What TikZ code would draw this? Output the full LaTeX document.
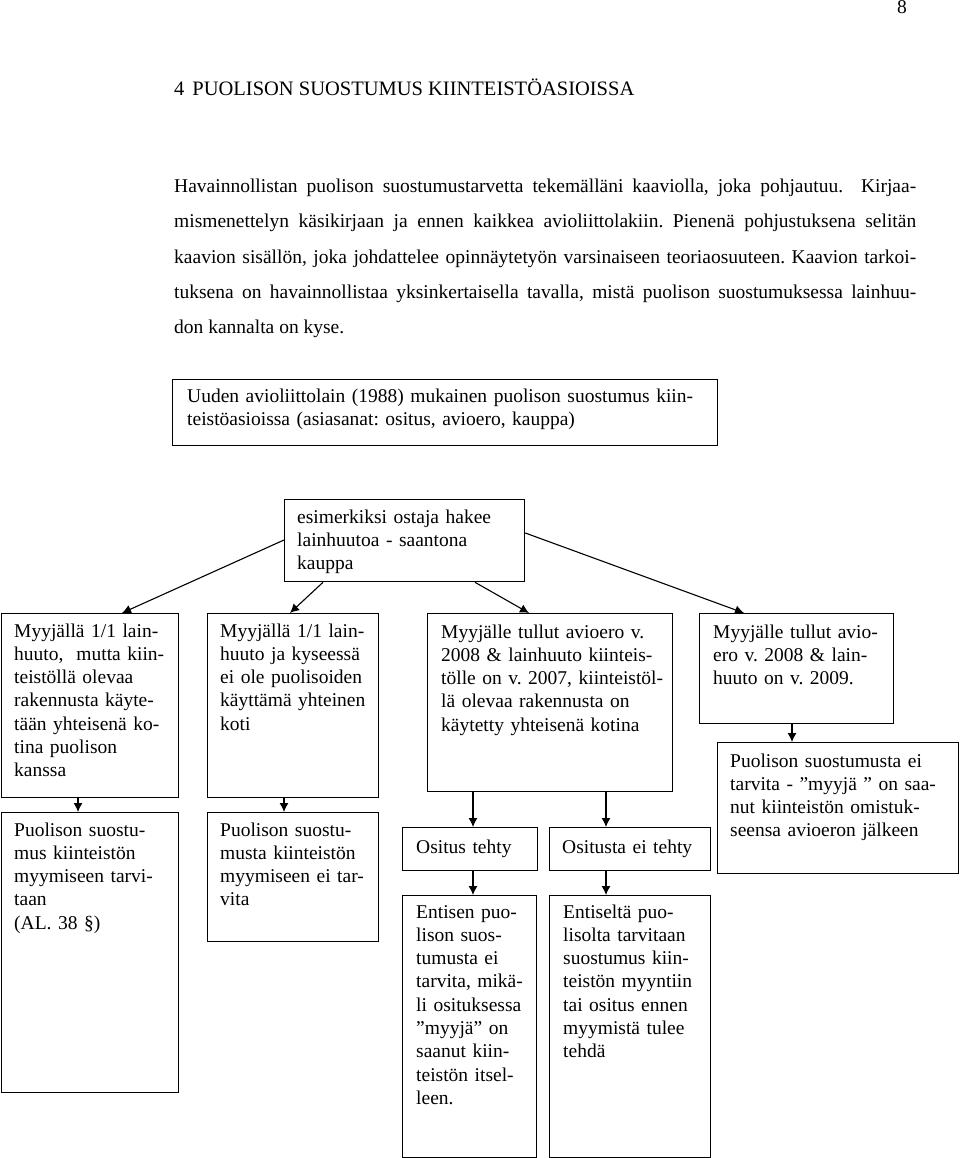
\documentclass[tikz,border=0pt]{standalone}
\usepackage{fontspec}
\setmainfont{Liberation Serif}
\usetikzlibrary{arrows.meta,calc}
\frenchspacing
\begin{document}
\begin{tikzpicture}[x=1pt,y=-1pt,
  box/.style={draw=black, line width=1.3pt, inner sep=0pt, anchor=north west},
  txt/.style={anchor=base west, inner sep=0pt, align=left, font=\fontsize{19.5}{23.3}\selectfont},
  arr/.style={draw=black, line width=1.1pt, -{Latex[length=9pt,width=9pt]}},
  para/.style={anchor=base west, inner sep=0pt, font=\fontsize{19.5}{21}\selectfont}]
\useasboundingbox[fill=white] (0,0) rectangle (960,1158);

% page number and heading
\node[para] (pnum) at (897,14) {8};
\node[para, font=\fontsize{20.5}{22}\selectfont] (head) at (174,96) {4\hspace{8pt}PUOLISON SUOSTUMUS KIINTEISTÖASIOISSA};

% paragraph
\node[para] (p1) at (174,193) {\makebox[742pt][s]{Havainnollistan puolison suostumustarvetta tekemälläni kaaviolla, joka pohjautuu.\ \ Kirjaa-}};
\node[para] (p2) at (174,228) {\makebox[742pt][s]{mismenettelyn käsikirjaan ja ennen kaikkea avioliittolakiin. Pienenä pohjustuksena selitän}};
\node[para] (p3) at (174,263) {\makebox[742pt][s]{kaavion sisällön, joka johdattelee opinnäytetyön varsinaiseen teoriaosuuteen. Kaavion tarkoi-}};
\node[para] (p4) at (174,298) {\makebox[742pt][s]{tuksena on havainnollistaa yksinkertaisella tavalla, mistä puolison suostumuksessa lainhuu-}};
\node[para] (p5) at (174,333) {don kannalta on kyse.};

% boxes
\node[box, minimum width=545pt, minimum height=66pt] (top) at (172,379) {};
\node[box, minimum width=240pt, minimum height=82pt] (m) at (284,499) {};
\node[box, minimum width=177pt, minimum height=184pt] (b1) at (1,613) {};
\node[box, minimum width=171pt, minimum height=184pt] (b2) at (207,613) {};
\node[box, minimum width=245pt, minimum height=178pt] (b3) at (427,613) {};
\node[box, minimum width=194pt, minimum height=110pt] (b4) at (699,613) {};
\node[box, minimum width=177pt, minimum height=280pt] (b1b) at (1,812) {};
\node[box, minimum width=171pt, minimum height=129pt] (b2b) at (207,812) {};
\node[box, minimum width=135pt, minimum height=43pt] (o1) at (402,827) {};
\node[box, minimum width=161pt, minimum height=43pt] (o2) at (549,827) {};
\node[box, minimum width=241pt, minimum height=131pt] (b4b) at (717,742) {};
\node[box, minimum width=134pt, minimum height=262pt] (e1) at (402,895) {};
\node[box, minimum width=161pt, minimum height=262pt] (e2) at (549,895) {};

% texts
\node[txt, text width=540pt] (topt) at ([shift={(15,23)}]top.north west)
  {Uuden avioliittolain (1988) mukainen puolison suostumus kiin-\\teistöasioissa (asiasanat: ositus, avioero, kauppa)};
\node[txt, text width=230pt] (mt) at ([shift={(13,24)}]m.north west)
  {esimerkiksi ostaja hakee\\lainhuutoa - saantona\\kauppa};
\node[txt, text width=170pt] (b1t) at ([shift={(13,24)}]b1.north west)
  {Myyjällä 1/1 lain-\\huuto,\ \ mutta kiin-\\teistöllä olevaa\\rakennusta käyte-\\tään yhteisenä ko-\\tina puolison\\kanssa};
\node[txt, text width=165pt] (b2t) at ([shift={(13,24)}]b2.north west)
  {Myyjällä 1/1 lain-\\huuto ja kyseessä\\ei ole puolisoiden\\käyttämä yhteinen\\koti};
\node[txt, text width=240pt] (b3t) at ([shift={(14,25)}]b3.north west)
  {Myyjälle tullut avioero v.\\2008 \& lainhuuto kiinteis-\\tölle on v. 2007, kiinteistöl-\\lä olevaa rakennusta on\\käytetty yhteisenä kotina};
\node[txt, text width=190pt] (b4t) at ([shift={(14,25)}]b4.north west)
  {Myyjälle tullut avio-\\ero v. 2008 \& lain-\\huuto on v. 2009.};
\node[txt, text width=170pt] (b1bt) at ([shift={(13,24)}]b1b.north west)
  {Puolison suostu-\\mus kiinteistön\\myymiseen tarvi-\\taan\\(AL. 38 §)};
\node[txt, text width=165pt] (b2bt) at ([shift={(13,24)}]b2b.north west)
  {Puolison suostu-\\musta kiinteistön\\myymiseen ei tar-\\vita};
\node[txt, text width=125pt] (o1t) at ([shift={(14,26)}]o1.north west) {Ositus tehty};
\node[txt, text width=150pt] (o2t) at ([shift={(13,26)}]o2.north west) {Ositusta ei tehty};
\node[txt, text width=235pt] (b4bt) at ([shift={(13,25)}]b4b.north west)
  {Puolison suostumusta ei\\tarvita - ”myyjä ” on saa-\\nut kiinteistön omistuk-\\seensa avioeron jälkeen};
\node[txt, text width=130pt] (e1t) at ([shift={(14,23)}]e1.north west)
  {Entisen puo-\\lison suos-\\tumusta ei\\tarvita, mikä-\\li osituksessa\\”myyjä” on\\saanut kiin-\\teistön itsel-\\leen.};
\node[txt, text width=155pt] (e2t) at ([shift={(14,23)}]e2.north west)
  {Entiseltä puo-\\lisolta tarvitaan\\suostumus kiin-\\teistön myyntiin\\tai ositus ennen\\myymistä tulee\\tehdä};

% connectors
\draw[arr] ([shift={(0,41)}]m.north west) -- ([shift={(121,0)}]b1.north west);
\draw[arr] ([shift={(39,0)}]m.south west) -- ([shift={(83,0)}]b2.north west);
\draw[arr] ([shift={(191,0)}]m.south west) -- ([shift={(102,0)}]b3.north west);
\draw[arr] ([shift={(0,34)}]m.north east) -- ([shift={(45,0)}]b4.north west);
\draw[arr] ([shift={(77,0)}]b1.south west) -- ([shift={(77,0)}]b1b.north west);
\draw[arr] ([shift={(77,0)}]b2.south west) -- ([shift={(77,0)}]b2b.north west);
\draw[arr] ([shift={(46,0)}]b3.south west) -- ([shift={(71,0)}]o1.north west);
\draw[arr] ([shift={(179,0)}]b3.south west) -- ([shift={(57,0)}]o2.north west);
\draw[arr] ([shift={(71,0)}]o1.south west) -- ([shift={(71,0)}]e1.north west);
\draw[arr] ([shift={(57,0)}]o2.south west) -- ([shift={(57,0)}]e2.north west);
\draw[arr] ([shift={(93,0)}]b4.south west) -- ([shift={(75,0)}]b4b.north west);
\end{tikzpicture}
\end{document}
